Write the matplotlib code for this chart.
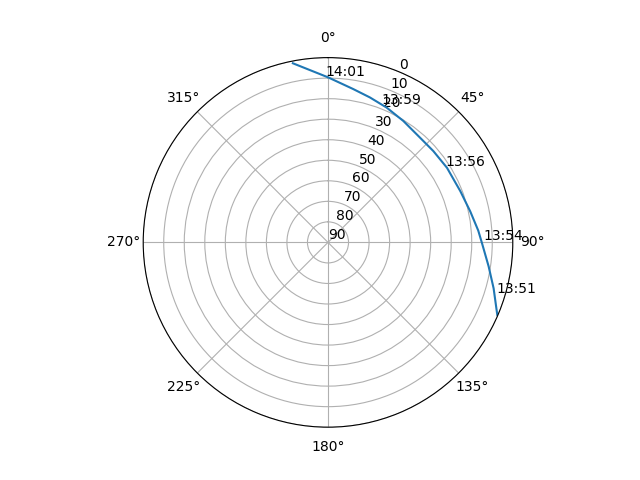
import numpy as np
import matplotlib
matplotlib.use("Agg")
import matplotlib.pyplot as plt

# satellite pass: azimuth (deg) and elevation (deg)
track_az = [113.2, 105.5, 98.5, 90.3, 85.5, 77.7, 68.8, 57.9, 49.1, 41.3,
            31.8, 23.5, 16.1, 9.3, 0, -2.8, -11.1]
track_el = [0.3, 6.3, 10.9, 15.0, 16.6, 19.1, 20.9, 21.6, 22.1, 22.1,
            20.4, 18.4, 16.5, 14.3, 9.6, 7.9, 1.1]

# time labels along the track
label_times = ["13:51", "13:54", "13:56", "13:59", "14:01"]
label_az = [106.8, 89.0, 56.9, 21.2, -0.9]
label_el = [4.3, 14.2, 21.9, 17.8, 8.8]

fig = plt.figure()
ax = fig.add_subplot(projection="polar")
ax.set_theta_zero_location("N")
ax.set_theta_direction(-1)

ax.plot(np.radians(track_az), track_el)
for t, a, e in zip(label_times, label_az, label_el):
    ax.text(np.radians(a), e, t)

ax.set_rticks(range(0, 91, 10))
ax.set_rlim(90, 0)

plt.savefig("out.png")
